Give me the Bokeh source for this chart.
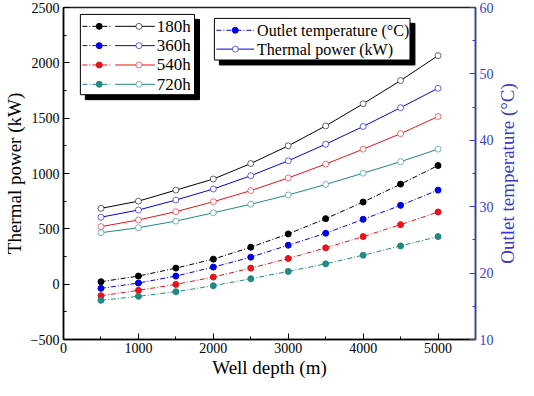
import math
from bokeh.plotting import figure
from bokeh.models import Range1d, LinearAxis
from bokeh.layouts import row
from bokeh.core.properties import value
from bokeh.embed import file_html
from bokeh.resources import INLINE

# ---------------- data ----------------
depth = [500, 1000, 1500, 2000, 2500, 3000, 3500, 4000, 4500, 5000]
series_names = ["180h", "360h", "540h", "720h"]
power_180 = [685, 750, 850, 950, 1090, 1250, 1430, 1630, 1840, 2065]
power_360 = [605, 670, 760, 860, 980, 1115, 1265, 1425, 1595, 1770]
power_540 = [520, 580, 655, 745, 845, 960, 1085, 1220, 1360, 1515]
power_720 = [465, 510, 570, 645, 722, 806, 901, 1003, 1107, 1220]
temp_180 = [18.7, 19.55, 20.75, 22.1, 23.9, 25.9, 28.2, 30.7, 33.4, 36.2]
temp_360 = [17.7, 18.5, 19.55, 20.9, 22.4, 24.2, 26.0, 28.1, 30.2, 32.5]
temp_540 = [16.6, 17.4, 18.3, 19.4, 20.75, 22.2, 23.8, 25.5, 27.3, 29.2]
temp_720 = [15.9, 16.5, 17.2, 18.1, 19.15, 20.25, 21.4, 22.7, 24.1, 25.5]
powers = [power_180, power_360, power_540, power_720]
temps = [temp_180, temp_360, temp_540, temp_720]
colors = ["#000000", "#0000e6", "#e8121c", "#218a80"]

X0, X1 = 0, 5500
Y0, Y1 = -500, 2500
T0, T1 = 10, 60
FONT = "Liberation Serif"
AXIS_BLUE = "#3a3acc"
DASHDOT = "5 2 1 2"
BORDER_TOP, BORDER_BOTTOM = 7, 30

p = figure(width=496, height=380, output_backend="svg", toolbar_location=None,
           x_range=Range1d(X0, X1), y_range=Range1d(Y0, Y1),
           min_border_left=50, min_border_right=19,
           min_border_top=BORDER_TOP, min_border_bottom=BORDER_BOTTOM)
p.extra_y_ranges = {"temp": Range1d(T0, T1)}
p.grid.visible = False
p.outline_line_color = "#222222"
p.outline_line_width = 1.5
p.background_fill_color = "white"
p.border_fill_color = "white"

def style_axis(ax, color, lab_off=4, title_off=3):
    ax.axis_line_color = color
    ax.axis_line_width = 1.5
    ax.major_tick_line_color = color
    ax.minor_tick_line_color = color
    ax.major_tick_in = 6
    ax.major_tick_out = 0
    ax.minor_tick_in = 3
    ax.minor_tick_out = 0
    ax.major_label_text_font = FONT
    ax.major_label_text_font_size = "14px"
    ax.major_label_text_color = color
    ax.axis_label_text_font = FONT
    ax.axis_label_text_font_size = "19px"
    ax.axis_label_text_font_style = "normal"
    ax.axis_label_text_color = color
    ax.major_label_standoff = lab_off
    ax.axis_label_standoff = title_off

p.xaxis.axis_label = "Well depth (m)"
p.yaxis.axis_label = "Thermal power (kW)"
p.xaxis.ticker.desired_num_ticks = 6
p.xaxis.ticker.num_minor_ticks = 2
p.yaxis.ticker.num_minor_ticks = 2
style_axis(p.xaxis[0], "#000000", 3, 1)
style_axis(p.yaxis[0], "#000000", 4, 3)

rax = LinearAxis(y_range_name="temp")
rax.ticker.num_minor_ticks = 2
style_axis(rax, AXIS_BLUE, 4, 0)
p.add_layout(rax, "right")

# ---------------- data marks ----------------
for pw, tp, c in zip(powers, temps, colors):
    p.line(depth, pw, line_color=c, line_width=1)
    p.scatter(depth, pw, marker="circle", size=6, fill_color="white",
              line_color=c, line_alpha=0.6, line_width=1)
    p.line(depth, tp, y_range_name="temp", line_color=c, line_width=1, line_dash=DASHDOT)
    p.scatter(depth, tp, y_range_name="temp", marker="circle", size=6,
              fill_color=c, line_color=c)

# ---------------- legends (layout in reference-pixel fractions) ----------------
FL, FR, FT, FB = 63.0, 478.0, 8.0, 343.0
def gx(px):
    return X0 + (px - FL) / (FR - FL) * (X1 - X0)
def gy(py):
    return Y0 + (FB - py) / (FB - FT) * (Y1 - Y0)

SH = 5  # shadow offset px

def legend_box(l, t, r, b):
    p.quad(left=[gx(l + SH)], right=[gx(r + SH)], top=[gy(t + SH)], bottom=[gy(b + SH)],
           fill_color="black", line_color="black")
    p.quad(left=[gx(l)], right=[gx(r)], top=[gy(t)], bottom=[gy(b)],
           fill_color="white", line_color="black", line_width=1)

# legend 1: series
legend_box(80, 15, 195, 96)
rows1 = [27, 46.5, 66, 85.5]
for name, c, ry in zip(series_names, colors, rows1):
    p.segment(x0=[gx(82)], y0=[gy(ry)], x1=[gx(112)], y1=[gy(ry)],
              line_color=c, line_width=1, line_dash=DASHDOT)
    p.scatter(x=[gx(99)], y=[gy(ry)], marker="circle", size=6, fill_color=c, line_color=c)
    p.segment(x0=[gx(115)], y0=[gy(ry)], x1=[gx(155)], y1=[gy(ry)],
              line_color=c, line_width=1)
    p.scatter(x=[gx(139)], y=[gy(ry)], marker="circle", size=6, fill_color="white",
              line_color=c, line_alpha=0.6)
    p.text(x=[gx(157)], y=[gy(ry)], text=[name], text_font=value(FONT),
           text_font_size="17px", text_baseline="middle", text_align="left",
           text_color="black")

# legend 2: quantity
legend_box(215, 19, 412, 61)
rows2 = [31, 50]
p.segment(x0=[gx(217)], y0=[gy(rows2[0])], x1=[gx(255)], y1=[gy(rows2[0])],
          line_color="#0000e6", line_width=1, line_dash=DASHDOT)
p.scatter(x=[gx(236)], y=[gy(rows2[0])], marker="circle", size=6,
          fill_color="#0000e6", line_color="#0000e6")
p.segment(x0=[gx(217)], y0=[gy(rows2[1])], x1=[gx(255)], y1=[gy(rows2[1])],
          line_color="#0000e6", line_width=1)
p.scatter(x=[gx(236)], y=[gy(rows2[1])], marker="circle", size=6,
          fill_color="white", line_color="#0000e6", line_alpha=0.6)
p.text(x=[gx(258)] * 2, y=[gy(rows2[0]), gy(rows2[1])],
       text=["Outlet temperature (\u00b0C)", "Thermal power (kW)"],
       text_font=value(FONT), text_font_size="16px", text_baseline="middle",
       text_align="left", text_color="black")

# ---------------- right-axis title strip (reads bottom-to-top) ----------------
p2 = figure(width=22, height=380, output_backend="svg", toolbar_location=None,
            x_range=Range1d(-1, 1), y_range=Range1d(0, 1),
            x_axis_type=None, y_axis_type=None,
            min_border_left=0, min_border_right=0,
            min_border_top=BORDER_TOP, min_border_bottom=BORDER_BOTTOM + 10)
p2.grid.visible = False
p2.outline_line_color = None
p2.border_fill_color = "white"
p2.text(x=[0], y=[0.5], text=["Outlet temperature (\u00b0C)"], angle=math.pi / 2,
        text_align="center", text_baseline="middle", text_font=value(FONT),
        text_font_size="19px", text_color=AXIS_BLUE)

layout = row(p, p2, spacing=0)
open("out.html", "w").write(file_html(layout, INLINE))
